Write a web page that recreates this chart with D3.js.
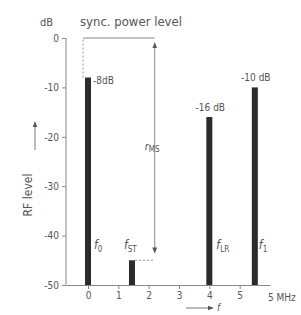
<html>
  <head>
	<script src="https://cdn.jsdelivr.net/npm/d3@7" type="text/javascript" charset="utf-8"></script>
	<style>
	  body { margin: 0; background: #fff; }
	  svg text { font-family: "DejaVu Sans Condensed", "Liberation Sans Narrow", sans-serif; fill: #555; }
	</style>
  </head>
  <body>
	<svg></svg>
  </body>
  <script type="text/javascript">
	(function() {
	  // carriers: position in MHz, level in dB
	  var carriers = ['0', 'ST', 'LR', '1'],
		  freqs = [0, 1.45, 4, 5.5],
		  levels = [-8, -45, -16, -10],
		  levelLabels = ['-8dB', '', '-16 dB', '-10 dB'],
		  yTicks = [0, -10, -20, -30, -40, -50],
		  xTicks = [0, 1, 2, 3, 4, 5];

	  var svg = d3.select('svg')
				.attr('width', 301)
				.attr('height', 315),
		  canvas = svg.append('g');

	  var x = d3.scaleLinear().domain([-0.725, 6]).range([66, 270]),
		  y = d3.scaleLinear().domain([-50, 0]).range([285, 38]);

	  var defs = svg.append('defs');
	  defs.append('marker')
		  .attr('id', 'arr')
		  .attr('viewBox', '0 0 10 10')
		  .attr('refX', 9).attr('refY', 5)
		  .attr('markerWidth', 6).attr('markerHeight', 6)
		  .attr('orient', 'auto-start-reverse')
		.append('path')
		  .attr('d', 'M0,1 L10,5 L0,9 z')
		  .attr('fill', '#555');

	  // axes
	  var yAxis = canvas.append('g')
			.attr('transform', 'translate(66,0)')
			.call(d3.axisLeft(y).tickValues(yTicks).tickSize(4).tickPadding(3).tickFormat(function(d) { return String(d); }));
	  var xAxis = canvas.append('g')
			.attr('transform', 'translate(0,285)')
			.call(d3.axisBottom(x).tickValues(xTicks).tickSize(4).tickPadding(3).tickSizeOuter(0).tickFormat(function(d) { return String(d); }));
	  [yAxis, xAxis].forEach(function(a) {
		a.selectAll('path, line').attr('stroke', '#888');
		a.selectAll('text').attr('font-size', 10).attr('fill', '#555');
	  });
	  yAxis.select('.domain').attr('d', 'M0,' + y(0) + 'V' + y(-50));

	  canvas.append('text')
			.attr('x', x(6) - 2).attr('y', 301)
			.attr('font-size', 10)
			.text('5 MHz');

	  // bars
	  canvas.selectAll('.bar')
			.data(carriers)
			.enter()
			.append('rect')
			.attr('class', 'bar')
			.attr('x', function(d, i) { return x(freqs[i]) - 3; })
			.attr('y', function(d, i) { return y(levels[i]); })
			.attr('width', 6)
			.attr('height', function(d, i) { return y(-50) - y(levels[i]); })
			.attr('fill', '#2b2b2b');

	  // level labels
	  canvas.append('text')
			.attr('x', x(freqs[0]) + 5).attr('y', y(levels[0]) + 6)
			.attr('font-size', 10)
			.text(levelLabels[0]);
	  [2, 3].forEach(function(i) {
		canvas.append('text')
			  .attr('x', x(freqs[i]) + 1).attr('y', y(levels[i]) - 6)
			  .attr('text-anchor', 'middle')
			  .attr('font-size', 10)
			  .text(levelLabels[i]);
	  });

	  // carrier names
	  var nameX = [x(freqs[0]) + 6, x(freqs[1]) - 8, x(freqs[2]) + 7, x(freqs[3]) + 4];
	  carriers.forEach(function(c, i) {
		var t = canvas.append('text')
			  .attr('x', nameX[i]).attr('y', 249)
			  .attr('font-size', 12);
		t.append('tspan').attr('font-style', 'italic').text('f');
		t.append('tspan').attr('font-size', 8).attr('dy', 3).text(c);
	  });

	  // sync power level bracket
	  var bx = x(2.2);
	  canvas.append('line')
			.attr('x1', x(0) - 5).attr('y1', y(levels[0]))
			.attr('x2', x(0) - 5).attr('y2', y(0))
			.attr('stroke', '#999').attr('stroke-dasharray', '2,2');
	  canvas.append('line')
			.attr('x1', x(0) - 5).attr('y1', y(0))
			.attr('x2', bx).attr('y2', y(0))
			.attr('stroke', '#888');
	  canvas.append('line')
			.attr('x1', bx).attr('y1', y(-1))
			.attr('x2', bx).attr('y2', y(-43.5))
			.attr('stroke', '#888')
			.attr('marker-start', 'url(#arr)')
			.attr('marker-end', 'url(#arr)');
	  canvas.append('line')
			.attr('x1', x(freqs[1]) + 3).attr('y1', y(levels[1]))
			.attr('x2', bx).attr('y2', y(levels[1]))
			.attr('stroke', '#999').attr('stroke-dasharray', '2,2');
	  var rl = canvas.append('text')
			.attr('x', bx - 10).attr('y', 150)
			.attr('font-size', 11);
	  rl.append('tspan').attr('font-style', 'italic').text('r');
	  rl.append('tspan').attr('font-size', 8).attr('dy', 2).text('MS');

	  canvas.append('text')
			.attr('x', 40).attr('y', 26)
			.attr('font-size', 11)
			.text('dB');
	  canvas.append('text')
			.attr('x', 80).attr('y', 26)
			.attr('font-size', 13)
			.text('sync. power level');

	  // RF level label with arrow
	  canvas.append('text')
			.attr('transform', 'translate(32,195) rotate(-90)')
			.attr('text-anchor', 'middle')
			.attr('font-size', 12)
			.text('RF level');
	  canvas.append('line')
			.attr('x1', 35).attr('y1', 150)
			.attr('x2', 35).attr('y2', 122)
			.attr('stroke', '#777')
			.attr('marker-end', 'url(#arr)');

	  // frequency arrow
	  canvas.append('line')
			.attr('x1', 186).attr('y1', 308)
			.attr('x2', 213).attr('y2', 308)
			.attr('stroke', '#777')
			.attr('marker-end', 'url(#arr)');
	  canvas.append('text')
			.attr('x', 217).attr('y', 311)
			.attr('font-size', 10)
			.attr('font-style', 'italic')
			.text('f');
	})();
  </script>
</html>
